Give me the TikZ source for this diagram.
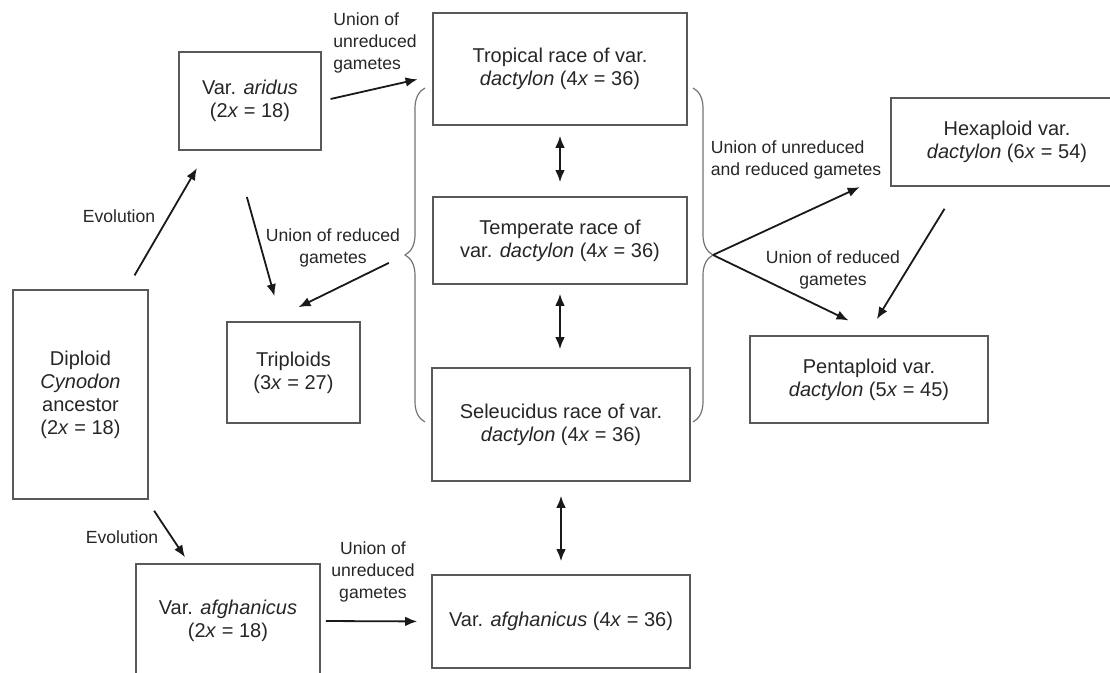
\documentclass[tikz,border=0pt]{standalone}
\usepackage{fontspec}
\setmainfont{Liberation Sans}
\usetikzlibrary{arrows.meta,calc,decorations.pathreplacing}

\tikzset{
  box/.style={draw=black!65, line width=0.8pt, align=center, inner sep=0pt, text=black!85, font=\fontsize{10}{11.5}\selectfont},
  lbl/.style={align=center, inner sep=0pt, text=black!85, font=\fontsize{8.8}{10.8}\selectfont},
  arr/.style={-{Latex[length=6pt,width=4.8pt]}, line width=0.9pt, draw=black!90},
  dbl/.style={{Latex[length=6pt,width=4.8pt]}-{Latex[length=6pt,width=4.8pt]}, line width=0.9pt, draw=black!90},
  brc/.style={draw=black!55, line width=0.6pt, decorate, decoration={brace, amplitude=10pt}},
}

\begin{document}
\begin{tikzpicture}[x=0.5pt, y=-0.5pt]
  \useasboundingbox (0,0) rectangle (1110,673);
  \clip (0,0) rectangle (1110,673);

  % left column
  \node[box, minimum width=67.5pt, minimum height=104.5pt] (diploid) at (80.5,394.5) {Diploid\\\textit{Cynodon}\\ancestor\\(2\textit{x} = 18)};
  \node[box, minimum width=71pt, minimum height=49pt] (aridus) at (250,101) {Var. \textit{aridus}\\(2\textit{x} = 18)};
  \node[box, minimum width=66.5pt, minimum height=50.5pt] (triploids) at (293.5,372.5) {Triploids\\(3\textit{x} = 27)};
  \node[box, minimum width=92pt, minimum height=57pt] (afghan2) at (228,621) {Var. \textit{afghanicus}\\(2\textit{x} = 18)};

  % middle column
  \node[box, minimum width=127pt, minimum height=56pt] (tropical) at (560,69) {Tropical race of var.\\\textit{dactylon} (4\textit{x} = 36)};
  \node[box, minimum width=127pt, minimum height=43.5pt] (temperate) at (560,240.5) {Temperate race of\\var. \textit{dactylon} (4\textit{x} = 36)};
  \node[box, minimum width=129pt, minimum height=56.5pt] (seleucidus) at (561,424.5) {Seleucidus race of var.\\\textit{dactylon} (4\textit{x} = 36)};
  \node[box, minimum width=129pt, minimum height=46.5pt] (afghan4) at (561,621.5) {Var. \textit{afghanicus} (4\textit{x} = 36)};

  % right column
  \node[box, minimum width=116pt, minimum height=44pt] (hexaploid) at (1007,142) {Hexaploid var.\\\textit{dactylon} (6\textit{x} = 54)};
  \node[box, minimum width=119pt, minimum height=43.5pt] (pentaploid) at (869,379.5) {Pentaploid var.\\\textit{dactylon} (5\textit{x} = 45)};

  % braces
  \draw[brc] (425,422) -- (425,88);
  \draw[brc] (693,88) -- (693,422);
  \coordinate (lb) at (405,255);
  \coordinate (rb) at (713,255);

  % labels
  \node[lbl, align=left] (l1) at (375,43) {Union of\\unreduced\\gametes};
  \node[lbl] (l2) at (119,216) {Evolution};
  \node[lbl] (l3) at (333,248) {Union of reduced\\gametes};
  \node[lbl] (l4) at (122,537) {Evolution};
  \node[lbl] (l5) at (373,572) {Union of\\unreduced\\gametes};
  \node[lbl, align=left] (l6) at (796,160) {Union of unreduced\\and reduced gametes};
  \node[lbl] (l7) at (833,270) {Union of reduced\\gametes};

  % arrows
  \draw[arr, shorten <=8pt, shorten >=10pt] ($(diploid.north)+(46,0)$) -- ($(aridus.south)+(-43,0)$);
  \draw[arr, shorten <=4.5pt, shorten >=7.5pt] (aridus.east) -- ($(tropical.west)+(0,7)$);
  \draw[arr, shorten <=24pt, shorten >=13pt] ($(aridus.south)+(-16,0)$) -- ($(triploids.north)+(-12,0)$);
  \draw[arr, shorten <=9pt] (lb) -- ($(triploids.north)+(5,-14)$);
  \draw[dbl, shorten <=5pt, shorten >=7pt] (tropical.south) -- (temperate.north);
  \draw[dbl, shorten <=4.5pt, shorten >=9pt] (temperate.south) -- ($(seleucidus.north)+(-1,0)$);
  \draw[dbl, shorten <=7pt, shorten >=6.5pt] (seleucidus.south) -- (afghan4.north);
  \draw[arr, shorten <=6.6pt, shorten >=3.6pt] ($(diploid.south east)+(-2,0)$) -- ($(afghan2.north)+(-39,0)$);
  \draw[arr, shorten <=2.5pt, shorten >=7pt] (afghan2.east) -- (afghan4.west);
  \draw[arr, shorten >=16.8pt] (rb) -- ($(hexaploid.west)+(0,31)$);
  \draw[arr, shorten >=16.9pt] (rb) -- ($(pentaploid.north)+(10,0)$);
  \draw[arr, shorten <=12.9pt, shorten >=9.4pt] ($(hexaploid.south)+(-49,0)$) -- ($(pentaploid.north)+(-2,0)$);
\end{tikzpicture}
\end{document}
